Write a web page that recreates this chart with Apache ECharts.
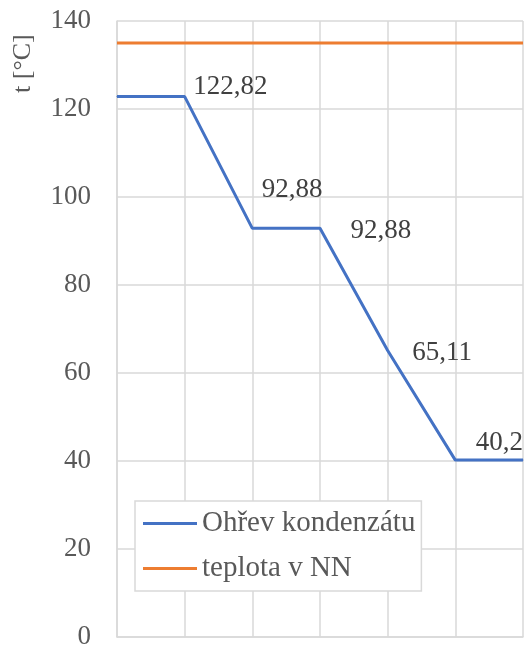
<!DOCTYPE html>
<html>
<head>
<meta charset="utf-8">
<script src="https://cdn.jsdelivr.net/npm/echarts@6/dist/echarts.min.js"></script>
<style>
  html, body { margin: 0; padding: 0; background: #fff; }
  #chart { width: 524px; height: 646px; }
</style>
</head>
<body>
<div id="chart"></div>
<script>
const categories = ['', '', '', '', '', '', '']
const kondenzat = [122.82, 122.82, 92.88, 92.88, 65.11, 40.2, 40.2]
const teplotaNN = [135, 135, 135, 135, 135, 135, 135]
const yTicks = [0, 20, 40, 60, 80, 100, 120, 140]

const serif = "'Liberation Serif', 'Times New Roman', serif"
const gridColor = '#d9d9d9'

// label placement per point (index -> [distance, offset])
const labelPlace = {
  1: [8, [0, -10]],
  2: [9, [0, -38]],
  3: [30, [0, 3]],
  4: [24, [0, 2]],
  5: [20, [0, -17]]
}

const chart = echarts.init(document.getElementById('chart'))

const option = {
  animation: false,
  backgroundColor: '#fff',
  textStyle: { fontFamily: serif },
  grid: { left: 117, right: 1, top: 21, bottom: 9, outerBoundsMode: 'none', containLabel: false },
  graphic: [{
    type: 'text',
    x: 10,
    y: 93,
    rotation: Math.PI / 2,
    style: { text: 't [°C]', fontFamily: serif, fontSize: 26, fill: '#595959' }
  }],
  legend: {
    orient: 'vertical',
    left: 135,
    top: 501,
    padding: [8, 6, 8, 8],
    itemGap: 16,
    itemWidth: 54,
    itemHeight: 3,
    icon: 'rect',
    backgroundColor: '#fff',
    borderColor: gridColor,
    borderWidth: 1.5,
    borderRadius: 0,
    textStyle: { fontFamily: serif, fontSize: 29, color: '#595959' },
    data: ['Ohřev kondenzátu', 'teplota v NN']
  },
  xAxis: {
    type: 'category',
    data: categories,
    boundaryGap: false,
    axisLine: { lineStyle: { color: gridColor, width: 1.5 } },
    axisTick: { show: false },
    axisLabel: { show: false },
    splitLine: { show: true, lineStyle: { color: gridColor, width: 1.5 } }
  },
  yAxis: {
    type: 'value',
    min: yTicks[0],
    max: yTicks[yTicks.length - 1],
    interval: 20,
    axisLine: { show: true, lineStyle: { color: gridColor, width: 1.5 } },
    axisTick: { show: false },
    axisLabel: { margin: 26, fontFamily: serif, fontSize: 27, color: '#595959' },
    splitLine: { lineStyle: { color: gridColor, width: 1.5 } }
  },
  series: [
    {
      name: 'Ohřev kondenzátu',
      type: 'line',
      symbol: 'circle',
      symbolSize: 1,
      itemStyle: { color: '#4472c4' },
      lineStyle: { color: '#4472c4', width: 3 },
      z: 3,
      data: kondenzat.map((v, i) => {
        const p = labelPlace[i]
        if (!p) return { value: v, label: { show: false } }
        return {
          value: v,
          label: {
            show: true,
            position: 'right',
            distance: p[0],
            offset: p[1],
            fontFamily: serif,
            fontSize: 27,
            color: '#404040',
            formatter: d => String(d.value).replace('.', ',')
          }
        }
      })
    },
    {
      name: 'teplota v NN',
      type: 'line',
      symbol: 'none',
      itemStyle: { color: '#ed7d31' },
      lineStyle: { color: '#ed7d31', width: 3 },
      data: teplotaNN
    }
  ]
}

chart.setOption(option)
</script>
</body>
</html>
